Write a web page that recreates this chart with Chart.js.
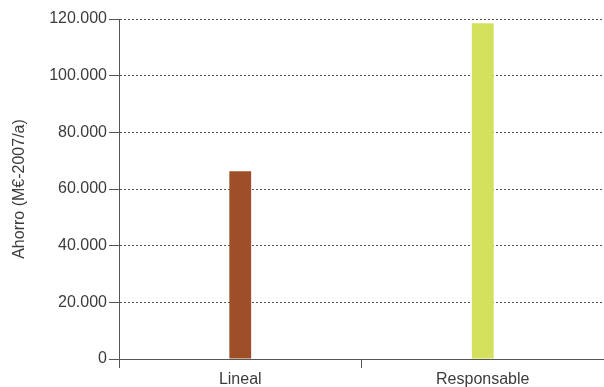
<!DOCTYPE html>
<html>
<head>
<meta charset="utf-8">
<script src="https://cdn.jsdelivr.net/npm/chart.js@4"></script>
<style>
  html, body { margin: 0; padding: 0; background: #fff; }
  #wrap { width: 604px; height: 387px; }
</style>
</head>
<body>
<div id="wrap"><canvas id="ahorro"></canvas></div>
<script>
var categories = ['Lineal', 'Responsable'];
var ahorro = [66300, 118500];
var bar_colors = ['#9E4F27', '#D3E05C'];
var y_ticks = [0, 20000, 40000, 60000, 80000, 100000, 120000];

function fmt_miles(v){
    // 120000 -> "120.000"
    return String(v).replace(/\B(?=(\d{3})+(?!\d))/g, '.');
}

Chart.defaults.font.family = "'Liberation Sans', Arial, sans-serif";
Chart.defaults.font.size = 16;
Chart.defaults.color = '#3c3c3c';

var ctx = document.getElementById('ahorro');
new Chart(ctx, {
    type: 'bar',
    data: {
        labels: categories,
        datasets: [{
            data: ahorro,
            backgroundColor: bar_colors,
            borderWidth: 0,
            categoryPercentage: 1,
            barPercentage: 0.09
        }]
    },
    options: {
        responsive: true,
        maintainAspectRatio: false,
        animation: false,
        layout: { padding: { top: 19, right: 0, bottom: 0, left: 0 } },
        plugins: {
            legend: { display: false },
            tooltip: { enabled: false }
        },
        scales: {
            x: {
                grid: {
                    offset: true,
                    drawOnChartArea: false,
                    drawTicks: true,
                    tickLength: 9,
                    color: '#555'
                },
                border: { color: '#555', width: 1 },
                ticks: { padding: 2, color: '#3c3c3c' },
                afterFit: function(scale){ scale.height = 28; }
            },
            y: {
                min: 0,
                max: 120000,
                afterBuildTicks: function(scale){
                    scale.ticks = y_ticks.map(function(v){ return {value: v}; });
                },
                grid: {
                    color: '#555',
                    tickLength: 10,
                    tickColor: '#555',
                    tickBorderDash: []
                },
                border: { color: '#555', width: 1, dash: [2, 2] },
                ticks: {
                    padding: 2,
                    color: '#3c3c3c',
                    callback: function(v){ return fmt_miles(v); }
                },
                title: {
                    display: true,
                    text: 'Ahorro (M€-2007/a)',
                    color: '#3c3c3c',
                    font: { size: 16 },
                    padding: { top: 10, bottom: 0 }
                },
                afterFit: function(scale){ scale.width = 119; }
            }
        }
    }
});
</script>
</body>
</html>
